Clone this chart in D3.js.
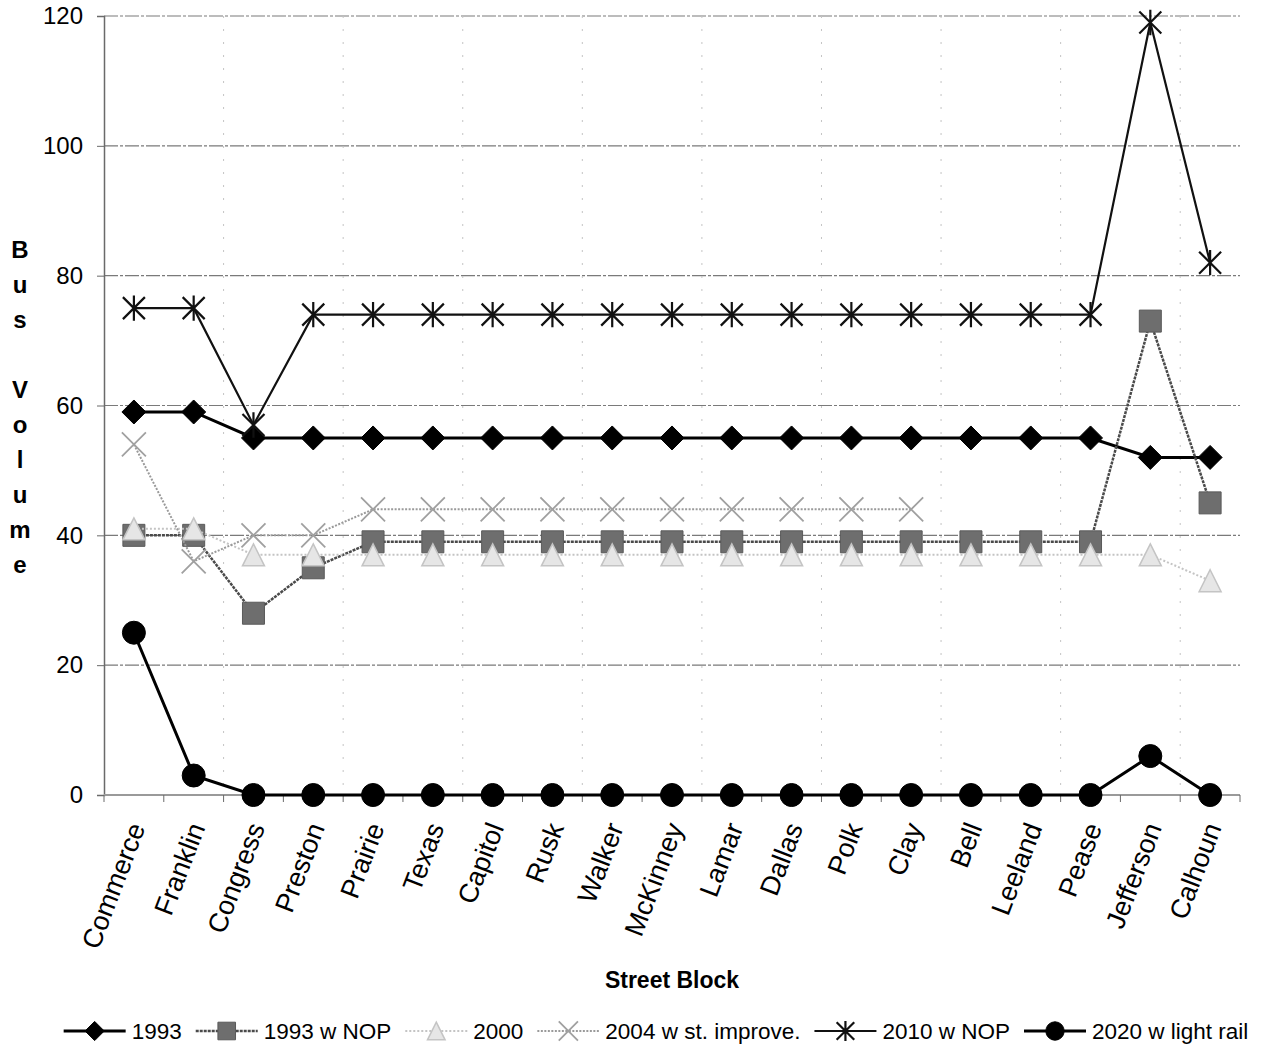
<!DOCTYPE html>
<html>
<head>
<meta charset="utf-8">
<script src="https://cdn.jsdelivr.net/npm/d3@7"></script>
<style>
  html, body { margin: 0; padding: 0; background: #fff; }
  svg { display: block; font-family: "Liberation Sans", Arial, sans-serif; }
</style>
</head>
<body>
<svg id="chart" width="1267" height="1051"></svg>
<script>
// Street blocks along the corridor
const blocks = ["Commerce", "Franklin", "Congress", "Preston", "Prairie", "Texas", "Capitol",
  "Rusk", "Walker", "McKinney", "Lamar", "Dallas", "Polk", "Clay", "Bell", "Leeland",
  "Pease", "Jefferson", "Calhoun"];

// Bus volumes per block for each scenario (null = not counted)
const vol1993 = [59, 59, 55, 55, 55, 55, 55, 55, 55, 55, 55, 55, 55, 55, 55, 55, 55, 52, 52];
const vol1993NOP = [40, 40, 28, 35, 39, 39, 39, 39, 39, 39, 39, 39, 39, 39, 39, 39, 39, 73, 45];
const vol2000 = [41, 41, 37, 37, 37, 37, 37, 37, 37, 37, 37, 37, 37, 37, 37, 37, 37, 37, 33];
const vol2004 = [54, 36, 40, 40, 44, 44, 44, 44, 44, 44, 44, 44, 44, 44, null, null, null, null, null];
const vol2010NOP = [75, 75, 57, 74, 74, 74, 74, 74, 74, 74, 74, 74, 74, 74, 74, 74, 74, 119, 82];
const vol2020Rail = [25, 3, 0, 0, 0, 0, 0, 0, 0, 0, 0, 0, 0, 0, 0, 0, 0, 6, 0];

const seriesNames = ["1993", "1993 w NOP", "2000", "2004 w st. improve.", "2010 w NOP", "2020 w light rail"];
const yTicks = [0, 20, 40, 60, 80, 100, 120];
const yTitle = "Bus Volume";
const xTitle = "Street Block";

const svg = d3.select("#chart");
const plotL = 104, plotR = 1240, plotT = 16, plotB = 795;

const x = d3.scalePoint().domain(blocks).range([plotL, plotR]).padding(0.5);
const step = x.step();
const y = d3.scaleLinear().domain([0, 120]).range([plotB, plotT]);

// marker shapes
const shapes = {
  diamond: r => `M0,${-r}L${r},0L0,${r}L${-r},0Z`,
  square: r => `M${-r},${-r}H${r}V${r}H${-r}Z`,
  triangle: r => `M0,${-r}L${r},${r}H${-r}Z`,
  cross: r => `M${-r},${-r}L${r},${r}M${r},${-r}L${-r},${r}`,
  star: r => `M${-r},${-r}L${r},${r}M${r},${-r}L${-r},${r}M0,${-r * 1.15}V${r * 1.15}`,
  circle: r => `M${r},0A${r},${r} 0 1,1 ${-r},0A${r},${r} 0 1,1 ${r},0Z`
};

const styles = [
  { values: vol1993, line: "#000", lw: 3, dash: null, shape: "diamond", r: 12, fill: "#000", stroke: "#000", sw: 1 },
  { values: vol1993NOP, line: "#4a4a4a", lw: 2.5, dash: "3,1", shape: "square", r: 11, fill: "#6e6e6e", stroke: "#5a5a5a", sw: 1 },
  { values: vol2000, line: "#c4c4c4", lw: 2, dash: "2,2", shape: "triangle", r: 11, fill: "#e6e6e6", stroke: "#c4c4c4", sw: 1.5 },
  { values: vol2004, line: "#9a9a9a", lw: 2, dash: "2,1.5", shape: "cross", r: 12, fill: "none", stroke: "#a0a0a0", sw: 1.8 },
  { values: vol2010NOP, line: "#111", lw: 2.2, dash: null, shape: "star", r: 11, fill: "none", stroke: "#111", sw: 2.2 },
  { values: vol2020Rail, line: "#000", lw: 3, dash: null, shape: "circle", r: 11.5, fill: "#000", stroke: "#000", sw: 1 }
];

// horizontal gridlines
svg.append("g").selectAll("line").data(yTicks.filter(t => t > 0)).join("line")
  .attr("x1", plotL).attr("x2", plotR)
  .attr("y1", d => y(d)).attr("y2", d => y(d))
  .attr("stroke", "#7a7a7a").attr("stroke-width", 1.2)
  .attr("stroke-dasharray", "14,2,3,2");

// faint vertical gridlines on every other block boundary
const bounds = d3.range(0, blocks.length + 1).map(i => plotL + i * step);
svg.append("g").selectAll("line").data(bounds.filter((b, i) => i > 0 && i % 2 === 0)).join("line")
  .attr("x1", d => d).attr("x2", d => d)
  .attr("y1", plotT).attr("y2", plotB)
  .attr("stroke", "#c4c4c4").attr("stroke-width", 1)
  .attr("stroke-dasharray", "2,11");

// y axis
const yAxis = svg.append("g").attr("transform", `translate(${plotL},0)`)
  .call(d3.axisLeft(y).tickValues(yTicks).tickSize(7).tickPadding(14));
yAxis.select(".domain").attr("stroke", "#6a6a6a").attr("stroke-width", 1.5);
yAxis.selectAll(".tick line").attr("stroke", "#6a6a6a");
yAxis.selectAll(".tick text").attr("font-size", 24).attr("fill", "#000")
  .attr("font-family", "Liberation Sans, Arial, sans-serif");

// x axis line and boundary ticks
svg.append("line").attr("x1", plotL).attr("x2", plotR).attr("y1", plotB).attr("y2", plotB)
  .attr("stroke", "#9a9a9a").attr("stroke-width", 2);
svg.append("g").selectAll("line").data(bounds).join("line")
  .attr("x1", d => d).attr("x2", d => d).attr("y1", plotB).attr("y2", plotB + 7)
  .attr("stroke", "#6a6a6a").attr("stroke-width", 1);

// rotated block labels
svg.append("g").selectAll("text").data(blocks).join("text")
  .attr("transform", d => `translate(${x(d) + 3},${824}) rotate(-69)`)
  .attr("text-anchor", "end").attr("dy", "0.35em")
  .attr("font-size", 27).text(d => d);

// axis titles
svg.append("text").attr("x", (plotL + plotR) / 2).attr("y", 988)
  .attr("text-anchor", "middle").attr("font-weight", "bold").attr("font-size", 23).text(xTitle);
svg.append("g").selectAll("text").data(yTitle.split("")).join("text")
  .attr("x", 20).attr("y", (d, i) => 258 + i * 35)
  .attr("text-anchor", "middle").attr("font-weight", "bold").attr("font-size", 24)
  .text(d => d.trim());

// series lines and markers
styles.forEach(s => {
  const pts = blocks.map((b, i) => ({ b, v: s.values[i] })).filter(p => p.v !== null);
  const line = d3.line().x(p => x(p.b)).y(p => y(p.v));
  svg.append("path").datum(pts).attr("d", line)
    .attr("fill", "none").attr("stroke", s.line).attr("stroke-width", s.lw)
    .attr("stroke-dasharray", s.dash);
  svg.append("g").selectAll("path").data(pts).join("path")
    .attr("transform", p => `translate(${x(p.b)},${y(p.v)})`)
    .attr("d", shapes[s.shape](s.r))
    .attr("fill", s.fill).attr("stroke", s.stroke).attr("stroke-width", s.sw);
});

// legend, laid out left to right then centred under the plot
const legend = svg.append("g");
let lx = 0;
const lineLen = 62;
seriesNames.forEach((name, i) => {
  const s = styles[i];
  const g = legend.append("g").attr("transform", `translate(${lx},0)`);
  g.append("line").attr("x1", 0).attr("x2", lineLen).attr("y1", 0).attr("y2", 0)
    .attr("stroke", s.line).attr("stroke-width", s.lw).attr("stroke-dasharray", s.dash);
  g.append("path").attr("transform", `translate(${lineLen / 2},0)`).attr("d", shapes[s.shape](s.r * 0.8))
    .attr("fill", s.fill).attr("stroke", s.stroke).attr("stroke-width", s.sw);
  const t = g.append("text").attr("x", lineLen + 6).attr("y", 0).attr("dy", "0.35em")
    .attr("font-size", 22.5).text(name);
  lx += lineLen + 6 + t.node().getComputedTextLength() + (i < seriesNames.length - 1 ? 14 : 0);
});
legend.attr("transform", `translate(${(62 + 1250 - lx) / 2 + 0},1031)`);
</script>
</body>
</html>
